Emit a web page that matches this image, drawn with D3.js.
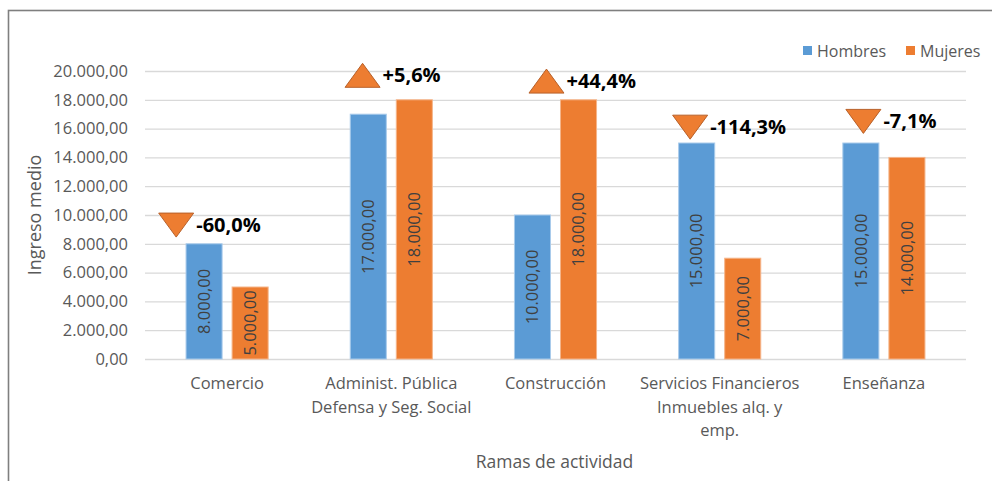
<!DOCTYPE html>
<html>
<head>
<meta charset="utf-8">
<script src="https://cdn.jsdelivr.net/npm/d3@7"></script>
<style>
  body { margin: 0; background: #fff; }
  svg { display: block; font-family: "Open Sans", sans-serif; }
</style>
</head>
<body>
<div id="chart"></div>
<script>
// data
var categories = ["Comercio", "Administ. Pública|Defensa y Seg. Social", "Construcción", "Servicios Financieros|Inmuebles alq. y|emp.", "Enseñanza"];
var seriesNames = ["Hombres", "Mujeres"];
var hombres = [8000, 17000, 10000, 15000, 15000];
var mujeres = [5000, 18000, 18000, 7000, 14000];
var yTicks = [0, 2000, 4000, 6000, 8000, 10000, 12000, 14000, 16000, 18000, 20000];
// hand placed arrow markers: level (in value units) and shift (fraction of band)
var markerLevel = [9300, 19700, 19300, 16100, 16500];
var markerShift = [-0.31, -0.175, -0.055, -0.18, -0.125];

var colors = {Hombres: "#5b9bd5", Mujeres: "#ed7d31"};

var W = 992, H = 481;
var svg = d3.select("#chart").append("svg").attr("width", W).attr("height", H);

// outer frame (cut by the picture on right and bottom)
svg.append("rect")
    .attr("x", 8.5).attr("y", 10.5)
    .attr("width", 1100).attr("height", 600)
    .attr("fill", "none").attr("stroke", "#7f7f7f").attr("stroke-width", 1.6);

var plotL = 145, plotR = 966, plotT = 71, plotB = 359;

var x0 = d3.scaleBand().domain(d3.range(categories.length))
    .range([plotL, plotR]).paddingInner(0.5).paddingOuter(0.25);
var x1 = d3.scaleBand().domain(seriesNames)
    .range([0, x0.bandwidth()]).paddingInner(0.217);
var y = d3.scaleLinear().domain([0, 20000]).range([plotB, plotT]);

var es = d3.formatLocale({decimal: ",", thousands: ".", grouping: [3], currency: ["", ""]});
var fmt = es.format(",.2f");
var pct = es.format("+.1%");

// gridlines
svg.append("g")
    .attr("transform", "translate(" + plotL + ",0)")
    .call(d3.axisLeft(y).tickValues(yTicks).tickSize(-(plotR - plotL)).tickFormat(""))
    .call(function(g) { g.select(".domain").remove(); })
    .selectAll("line").attr("stroke", "#d9d9d9").attr("stroke-width", 1.3);

// y tick labels
svg.append("g")
    .attr("transform", "translate(" + (plotL - 17) + ",0)")
    .call(d3.axisLeft(y).tickValues(yTicks).tickSize(0).tickPadding(0).tickFormat(fmt))
    .call(function(g) { g.select(".domain").remove(); })
    .selectAll("text")
    .attr("fill", "#595959").style("font-size", "16.5px").style("font-family", "Open Sans");

var rows = categories.map(function(c, i) {
    return {i: i, name: c, values: [{s: "Hombres", v: hombres[i]}, {s: "Mujeres", v: mujeres[i]}]};
});

var groups = svg.selectAll(".grp").data(rows).enter().append("g")
    .attr("class", "grp")
    .attr("transform", function(d) { return "translate(" + x0(d.i) + ",0)"; });

groups.selectAll("rect").data(function(d) { return d.values; }).enter().append("rect")
    .attr("x", function(d) { return x1(d.s); })
    .attr("width", x1.bandwidth())
    .attr("y", function(d) { return y(d.v); })
    .attr("height", function(d) { return y(0) - y(d.v); })
    .attr("fill", function(d) { return colors[d.s]; })
    .attr("stroke", function(d) { return d.s === "Hombres" ? "#a9cbeb" : "#f5b58a"; })
    .attr("stroke-width", 1);

// rotated value labels
groups.selectAll(".val").data(function(d) { return d.values; }).enter().append("text")
    .attr("class", "val")
    .attr("transform", function(d) {
        var cx = x1(d.s) + x1.bandwidth() / 2;
        var cy = (y(d.v) + y(0)) / 2;
        return "translate(" + cx + "," + cy + ") rotate(-90)";
    })
    .attr("text-anchor", "middle")
    .attr("dy", "0.35em")
    .attr("fill", "#404040")
    .style("font-size", "16.5px")
    .text(function(d) { return fmt(d.v); });

// category labels
var catG = svg.append("g");
rows.forEach(function(d) {
    var t = catG.append("text")
        .attr("x", x0(d.i) + x0.bandwidth() / 2)
        .attr("y", 389)
        .attr("text-anchor", "middle")
        .attr("fill", "#595959")
        .style("font-size", "16.5px");
    d.name.split("|").forEach(function(line, k) {
        t.append("tspan").attr("x", x0(d.i) + x0.bandwidth() / 2)
            .attr("dy", k === 0 ? 0 : 23.5).text(line);
    });
});

// arrow markers with % difference
var mk = svg.selectAll(".mk").data(rows).enter().append("g")
    .attr("class", "mk")
    .attr("transform", function(d) {
        var cx = x0(d.i) + x0.bandwidth() / 2 + markerShift[d.i] * x0.step();
        return "translate(" + cx + "," + y(markerLevel[d.i]) + ")";
    });
mk.append("path")
    .attr("d", function(d) {
        var up = mujeres[d.i] > hombres[d.i];
        return up ? "M-17.5,12L17.5,12L0,-12Z" : "M-17.5,-12L17.5,-12L0,12Z";
    })
    .attr("fill", "#ed7d31").attr("stroke", "#b8612a").attr("stroke-width", 1);
mk.append("text")
    .attr("x", 20)
    .attr("dy", "0.35em")
    .attr("fill", "#000")
    .style("font-size", "20px").style("font-weight", "bold")
    .text(function(d) {
        var p = (mujeres[d.i] - hombres[d.i]) / mujeres[d.i];
        return pct(p).replace("−", "-");
    });

// axis titles
svg.append("text")
    .attr("transform", "translate(35," + ((plotT + plotB) / 2) + ") rotate(-90)")
    .attr("text-anchor", "middle").attr("dy", "0.35em")
    .attr("fill", "#595959").style("font-size", "18px")
    .text("Ingreso medio");
svg.append("text")
    .attr("x", (plotL + plotR) / 2 - 1).attr("y", 468)
    .attr("text-anchor", "middle")
    .attr("fill", "#595959").style("font-size", "17.5px")
    .text("Ramas de actividad");

// legend
var lg = svg.append("g");
var legendX = [803, 906];
seriesNames.forEach(function(s, i) {
    lg.append("rect").attr("x", legendX[i]).attr("y", 46).attr("width", 9).attr("height", 9)
        .attr("fill", colors[s]);
    lg.append("text").attr("x", legendX[i] + 14).attr("y", 51).attr("dy", "0.35em")
        .attr("fill", "#595959").style("font-size", "16px").text(s);
});
</script>
</body>
</html>
